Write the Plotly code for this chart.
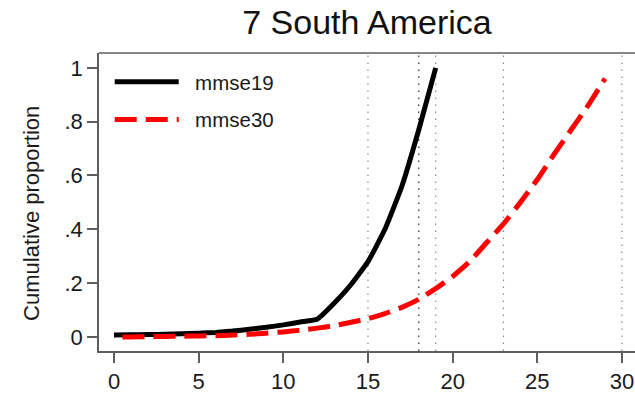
import plotly.graph_objects as go

# Cumulative proportion by MMSE score, South America
x19 = list(range(0, 20))
mmse19 = [0.007, 0.008, 0.009, 0.010, 0.012, 0.014, 0.017, 0.022, 0.029, 0.036,
          0.045, 0.056, 0.066, 0.125, 0.195, 0.28, 0.40, 0.56, 0.77, 1.0]

x30 = [0.5] + list(range(1, 30))
mmse30 = [0.0, 0.0, 0.001, 0.002, 0.003, 0.004, 0.005, 0.007, 0.010, 0.014,
          0.019, 0.025, 0.033, 0.042, 0.055, 0.068, 0.087, 0.11, 0.14, 0.18,
          0.225, 0.28, 0.35, 0.42, 0.50, 0.585, 0.68, 0.77, 0.86, 0.96]

cutoffs = [15, 18, 19, 23, 30]
cutoff_colors = ["#8a8a8a", "#222222", "#8a8a8a", "#8a8a8a", "#8a8a8a"]

xticks = [0, 5, 10, 15, 20, 25, 30]
yticks = [0, 0.2, 0.4, 0.6, 0.8, 1.0]
yticktext = ["0", ".2", ".4", ".6", ".8", "1"]

FONT = "Liberation Sans, Arial, sans-serif"
AXIS = "#5e5e5e"
NBSP = "\u00a0\u00a0"

fig = go.Figure()
fig.add_trace(go.Scatter(x=x19, y=mmse19, mode="lines", name=NBSP + "mmse19",
                         legendgroup="a",
                         line=dict(color="black", width=5, shape="spline", smoothing=0.4)))
fig.add_trace(go.Scatter(x=x30, y=mmse30, mode="lines", name=NBSP + "mmse30",
                         legendgroup="b",
                         line=dict(color="#ff0000", width=5, dash="22px,9px",
                                   shape="spline", smoothing=0.4)))

for xv, c in zip(cutoffs, cutoff_colors):
    fig.add_shape(type="line", xref="x", yref="paper", x0=xv, x1=xv, y0=0, y1=1,
                  line=dict(color=c, width=1.2, dash="1.5px,5.5px"), layer="below")

# top frame line
fig.add_shape(type="line", xref="paper", yref="paper", x0=0, x1=1, y0=1, y1=1,
              line=dict(color=AXIS, width=1.5))

# y-axis title
fig.add_annotation(text="Cumulative proportion", textangle=-90,
                   xref="paper", yref="paper", x=(32 - 99) / 536, y=(353 - 215) / 300,
                   xanchor="center", yanchor="middle", showarrow=False,
                   font=dict(size=22, family=FONT, color="#1a1a1a"))

fig.update_layout(
    width=635, height=394,
    margin=dict(l=99, r=0, t=53, b=41),
    paper_bgcolor="white", plot_bgcolor="white",
    font=dict(family=FONT, color="#1a1a1a"),
    title=dict(text="7 South America", x=367 / 635, xanchor="center",
               y=1 - 22 / 394, yanchor="middle", yref="container",
               font=dict(size=34, color="#111111", family=FONT)),
    showlegend=True,
    legend=dict(x=0.02, y=0.97, xanchor="left", yanchor="top",
                font=dict(size=20.5, family=FONT, color="#1a1a1a"),
                itemwidth=64, tracegroupgap=8, bgcolor="rgba(0,0,0,0)"),
    xaxis=dict(range=[-0.886, 30.77], tickvals=xticks, showgrid=False, zeroline=False,
               showline=True, linecolor=AXIS, linewidth=1.5,
               ticks="outside", ticklen=10, tickwidth=1.5, tickcolor=AXIS,
               tickfont=dict(size=22, family=FONT, color="#1a1a1a")),
    yaxis=dict(range=[-0.052, 1.055], tickvals=yticks, ticktext=yticktext,
               showgrid=False, zeroline=False,
               showline=True, linecolor=AXIS, linewidth=1.5,
               ticks="outside", ticklen=10, tickwidth=1.5, tickcolor=AXIS,
               tickfont=dict(size=22, family=FONT, color="#1a1a1a")),
)

fig.write_html("out.html")
